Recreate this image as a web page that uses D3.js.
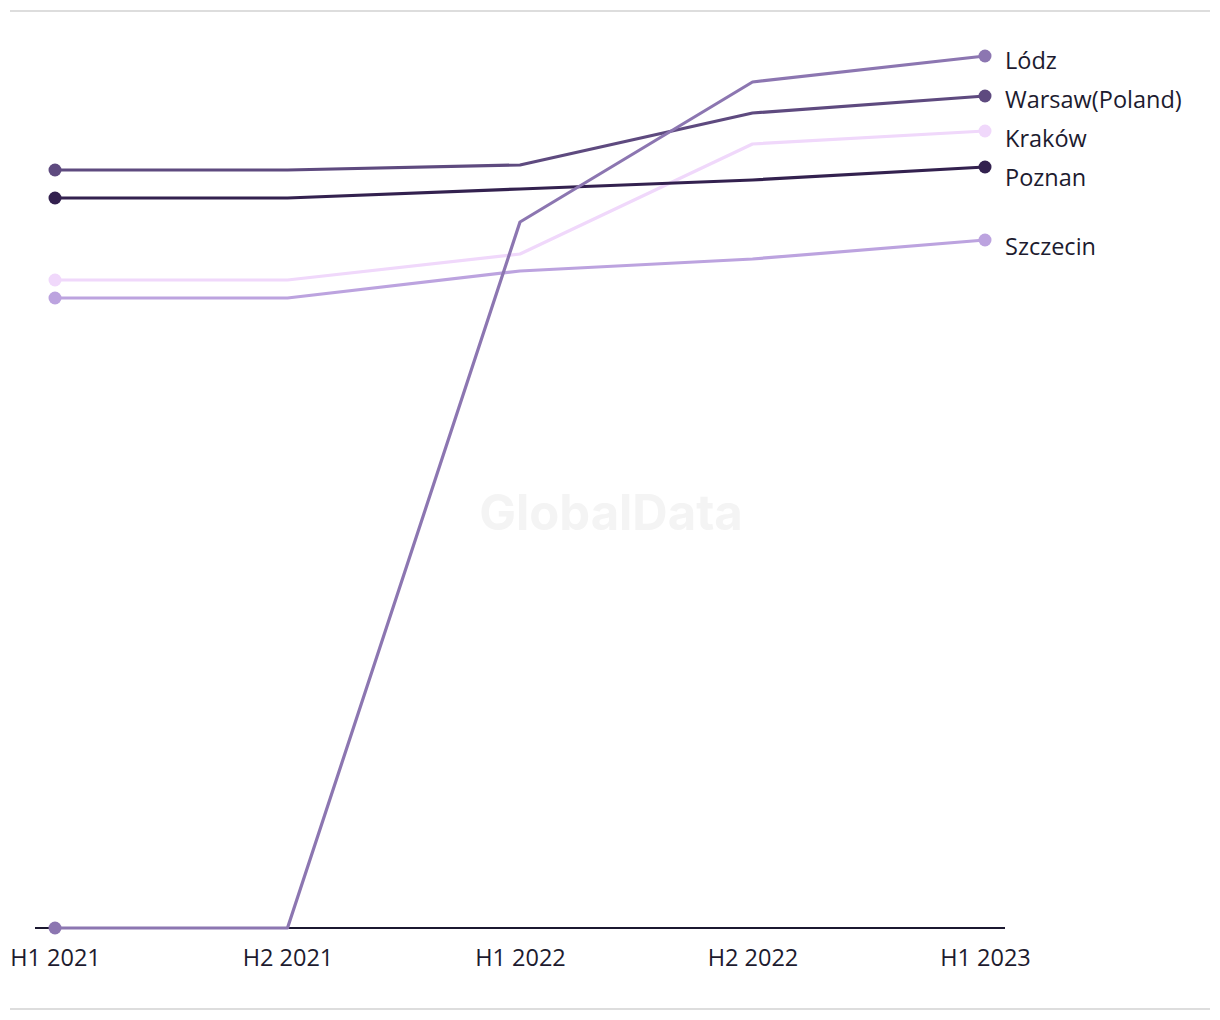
<!DOCTYPE html>
<html>
<head>
<meta charset="utf-8">
<script src="https://cdn.jsdelivr.net/npm/d3@7"></script>
<style>
html,body{margin:0;padding:0;background:#fff;}
svg{display:block;}
</style>
</head>
<body>
<svg id="chart" width="1220" height="1020"></svg>
<script>
const periods = ["H1 2021", "H2 2021", "H1 2022", "H2 2022", "H1 2023"];
const cityNames = ["Lódz", "Warsaw(Poland)", "Kraków", "Poznan", "Szczecin"];
const lodzValues = [0, 0, 706, 846, 872];
const warsawValues = [758, 758, 763, 815, 832];
const krakowValues = [648, 648, 674, 784, 797];
const poznanValues = [730, 730, 739, 748, 761];
const szczecinValues = [630, 630, 657, 669, 688];
const cityColors = ["#8c76b1", "#5e4a7f", "#f0d8fb", "#33214f", "#bca3df"];

const series = [
  {name: cityNames[0], values: lodzValues, color: cityColors[0]},
  {name: cityNames[1], values: warsawValues, color: cityColors[1]},
  {name: cityNames[2], values: krakowValues, color: cityColors[2]},
  {name: cityNames[3], values: poznanValues, color: cityColors[3]},
  {name: cityNames[4], values: szczecinValues, color: cityColors[4]}
];
const drawOrder = [2, 4, 3, 1, 0];

const svg = d3.select("#chart");
const font = "'Open Sans', 'DejaVu Sans', sans-serif";
const textColor = "#1d1b2f";

// frame rules
svg.append("line").attr("x1", 10).attr("x2", 1210).attr("y1", 11).attr("y2", 11)
  .attr("stroke", "#dddddd").attr("stroke-width", 2);
svg.append("line").attr("x1", 10).attr("x2", 1210).attr("y1", 1009).attr("y2", 1009)
  .attr("stroke", "#dddddd").attr("stroke-width", 2);

// watermark
svg.append("text").attr("x", 611).attr("y", 530).attr("text-anchor", "middle")
  .attr("font-family", "'Inter', 'Liberation Sans', sans-serif").attr("font-weight", 700)
  .attr("font-size", 49).attr("fill", "#f4f4f4").text("GlobalData");

const x = d3.scalePoint().domain(periods).range([55, 985]);
const y = d3.scaleLinear().domain([0, 900]).range([928, 28]);

// baseline axis
const xAxis = d3.axisBottom(x).tickSize(0).tickPadding(21);
const ax = svg.append("g").attr("transform", "translate(0,928)").call(xAxis);
ax.select(".domain").remove();
ax.selectAll("text").attr("font-family", font).attr("font-size", 23.5)
  .attr("fill", textColor).attr("dy", "0.71em");
svg.append("line").attr("x1", 35).attr("x2", 1005).attr("y1", 928).attr("y2", 928)
  .attr("stroke", "#1b1830").attr("stroke-width", 2);

const line = d3.line().x((d, i) => x(periods[i])).y(d => y(d));

const g = svg.append("g");
drawOrder.forEach(k => {
  const s = series[k];
  g.append("path").attr("d", line(s.values)).attr("fill", "none")
    .attr("stroke", s.color).attr("stroke-width", 3.2).attr("stroke-linejoin", "round");
  const last = s.values.length - 1;
  [0, last].forEach(i => {
    g.append("circle").attr("cx", x(periods[i])).attr("cy", y(s.values[i]))
      .attr("r", 6.5).attr("fill", s.color);
  });
});

// end labels with simple collision avoidance
const labels = series.map(s => ({name: s.name, y: y(s.values[s.values.length - 1]) + 7}));
labels.sort((a, b) => a.y - b.y);
const gap = 39;
for (let iter = 0; iter < 200; iter++) {
  let moved = false;
  for (let i = 1; i < labels.length; i++) {
    const d = labels[i].y - labels[i - 1].y;
    if (d < gap) {
      const push = (gap - d) / 2;
      labels[i - 1].y -= push;
      labels[i].y += push;
      moved = true;
    }
  }
  if (!moved) break;
}
svg.append("g").selectAll("text").data(labels).join("text")
  .attr("x", 1005).attr("y", d => d.y).attr("dy", "0.35em")
  .attr("font-family", font).attr("font-size", 23.5).attr("fill", textColor)
  .text(d => d.name);
</script>
</body>
</html>
